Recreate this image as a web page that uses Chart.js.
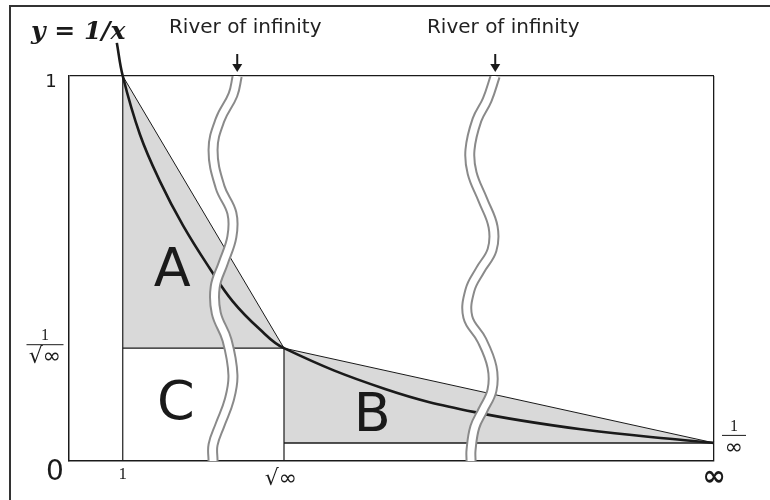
<html>
<head>
<script src="https://cdn.jsdelivr.net/npm/chart.js@4.4.1/dist/chart.umd.min.js"></script>
<style>
  body { margin: 0; background: #fff; }
  canvas { display: block; }
</style>
</head>
<body>
<canvas id="myChart" width="770" height="500"></canvas>
<script>
// axis marks (schematic positions)
var xTicks = [0, 1, 4, 12];
var xTickLabels = ['', '1', '√∞', '∞'];
var yTicks = [0, 0.047, 0.293, 1];
var yTickLabels = ['0', '1/∞', '1/√∞', '1'];

// y = 1/x curve
var curveX = [0.89, 1, 1.32, 1.69, 2.12, 2.62, 3.05, 3.55, 4, 5.88, 7.55, 9.6, 11.46, 12];
var curveY = [1.086, 1, 0.848, 0.727, 0.612, 0.5, 0.414, 0.342, 0.293, 0.187, 0.127, 0.081, 0.054, 0.047];

// the two "rivers of infinity"
var river1X = [3.13, 3.05, 2.81, 2.68, 2.81, 3.03, 3.03, 2.87, 2.72, 2.74, 2.94, 3.05, 2.98, 2.81, 2.68, 2.68];
var river1Y = [1, 0.951, 0.886, 0.808, 0.712, 0.644, 0.582, 0.514, 0.452, 0.384, 0.314, 0.223, 0.158, 0.094, 0.042, 0];
var river2X = [7.93, 7.78, 7.59, 7.46, 7.5, 7.7, 7.89, 7.87, 7.65, 7.46, 7.42, 7.68, 7.87, 7.87, 7.7, 7.55, 7.48, 7.48];
var river2Y = [1, 0.938, 0.886, 0.808, 0.748, 0.678, 0.608, 0.548, 0.496, 0.444, 0.374, 0.314, 0.244, 0.184, 0.132, 0.088, 0.029, 0];
var riverLabel = 'River of infinity';

// areas
var regionLabels = ['A', 'B', 'C'];
var regionX = [1.92, 5.64, 1.99];
var regionY = [0.49, 0.114, 0.145];

function pts(xs, ys) {
    return xs.map(function(x, i) { return {x: x, y: ys[i]}; });
}

var GRAY = '#d9d9d9';
var INK = '#1a1a1a';

function seg(data, width, order) {
    return {data: data, borderColor: INK, borderWidth: width, pointRadius: 0, fill: false, order: order};
}

function river(xs, ys) {
    return [
        {data: pts(xs, ys), borderColor: '#8a8a8a', borderWidth: 11, pointRadius: 0, tension: 0.4, fill: false, order: 3, borderCapStyle: 'butt'},
        {data: pts(xs, ys), borderColor: '#ffffff', borderWidth: 7, pointRadius: 0, tension: 0.4, fill: false, order: 2, borderCapStyle: 'butt'}
    ];
}

var triA = [{x: xTicks[1], y: yTicks[3]}, {x: xTicks[2], y: yTicks[2]}];
var triB = [{x: xTicks[2], y: yTicks[2]}, {x: xTicks[3], y: yTicks[1]}];

var datasets = [
    {data: triA, fill: {value: yTicks[2]}, backgroundColor: GRAY, borderColor: INK, borderWidth: 1, pointRadius: 0, order: 10},
    {data: triB, fill: {value: yTicks[1]}, backgroundColor: GRAY, borderColor: INK, borderWidth: 1, pointRadius: 0, order: 10},
    seg([{x: xTicks[1], y: yTicks[2]}, {x: xTicks[2], y: yTicks[2]}], 1.2, 9),
    seg([{x: xTicks[2], y: 0}, {x: xTicks[2], y: yTicks[2]}], 1.2, 9),
    seg([{x: xTicks[2], y: yTicks[1]}, {x: xTicks[3], y: yTicks[1]}], 1.5, 9),
    seg([{x: xTicks[1], y: 0}, {x: xTicks[1], y: yTicks[3]}], 1.2, 9),
    {data: pts(curveX, curveY), borderColor: INK, borderWidth: 2.6, pointRadius: 0, tension: 0.4, fill: false, order: 5, clip: false}
].concat(river(river1X, river1Y), river(river2X, river2Y));

function frac(ctx, cx, barY, w, den) {
    ctx.fillStyle = INK;
    ctx.textAlign = 'center';
    ctx.font = '16px "Liberation Serif"';
    ctx.textBaseline = 'alphabetic';
    ctx.fillText('1', cx, barY - 4);
    ctx.strokeStyle = INK;
    ctx.lineWidth = 1;
    ctx.beginPath();
    ctx.moveTo(cx - w / 2, barY + 0.5);
    ctx.lineTo(cx + w / 2, barY + 0.5);
    ctx.stroke();
    ctx.font = '22px "DejaVu Sans"';
    ctx.textBaseline = 'middle';
    ctx.fillText(den, cx, barY + 13);
}

var textPlugin = {
    id: 'texts',
    beforeDraw: function(chart) {
        var c = chart.ctx;
        c.save();
        c.strokeStyle = '#333';
        c.lineWidth = 2;
        c.beginPath();
        c.moveTo(10, 500);
        c.lineTo(10, 6);
        c.lineTo(770, 6);
        c.stroke();
        c.restore();
    },
    afterDraw: function(chart) {
        var c = chart.ctx;
        var xs = chart.scales.x, ys = chart.scales.y;
        c.save();
        c.fillStyle = INK;

        // title
        c.font = 'italic bold 25px "DejaVu Serif"';
        c.textAlign = 'left';
        c.textBaseline = 'alphabetic';
        c.fillText('y = 1/x', 31, 39);

        // region letters
        c.font = '54px "DejaVu Sans"';
        c.textAlign = 'center';
        c.textBaseline = 'middle';
        regionLabels.forEach(function(l, i) {
            c.fillText(l, xs.getPixelForValue(regionX[i]), ys.getPixelForValue(regionY[i]));
        });

        // river captions + arrows
        [river1X[0], river2X[0]].forEach(function(rx) {
            var px = xs.getPixelForValue(rx);
            var top = ys.getPixelForValue(1);
            c.fillStyle = '#222';
            c.font = '20px "DejaVu Sans"';
            c.textAlign = 'center';
            c.textBaseline = 'middle';
            c.fillText(riverLabel, px + 8, top - 48);
            c.fillStyle = INK;
            c.strokeStyle = INK;
            c.lineWidth = 2;
            c.beginPath();
            c.moveTo(px, top - 22);
            c.lineTo(px, top - 10);
            c.stroke();
            c.beginPath();
            c.moveTo(px - 5, top - 12);
            c.lineTo(px + 5, top - 12);
            c.lineTo(px, top - 4);
            c.closePath();
            c.fill();
        });

        // y tick labels
        var x0 = xs.getPixelForValue(0);
        c.textAlign = 'center';
        c.textBaseline = 'middle';
        c.font = '18px "DejaVu Sans"';
        c.fillText(yTickLabels[3], x0 - 18, ys.getPixelForValue(yTicks[3]) + 6);
        c.font = '28px "DejaVu Sans"';
        c.fillText(yTickLabels[0], x0 - 14, ys.getPixelForValue(yTicks[0]) + 12);
        frac(c, x0 - 24, ys.getPixelForValue(yTicks[2]) - 4, 37, yTickLabels[2].split('/')[1]);
        frac(c, xs.getPixelForValue(xTicks[3]) + 20, ys.getPixelForValue(yTicks[1]) - 8, 24, yTickLabels[1].split('/')[1]);

        // x tick labels
        var yb = ys.getPixelForValue(0);
        c.textBaseline = 'middle';
        c.font = '17px "Liberation Serif"';
        c.fillText(xTickLabels[1], xs.getPixelForValue(xTicks[1]), yb + 14);
        c.font = '22px "DejaVu Sans"';
        c.fillText(xTickLabels[2], xs.getPixelForValue(xTicks[2]) - 3, yb + 18);
        c.font = 'bold 28px "DejaVu Sans"';
        c.fillText(xTickLabels[3], xs.getPixelForValue(xTicks[3]), yb + 17);
        c.restore();
    }
};

var ctx = document.getElementById('myChart').getContext('2d');
var chart = new Chart(ctx, {
    type: 'line',
    data: {datasets: datasets},
    options: {
        responsive: false,
        animation: false,
        devicePixelRatio: 1,
        layout: {padding: {left: 69, top: 76, right: 56, bottom: 39}},
        plugins: {legend: {display: false}, tooltip: {enabled: false}},
        scales: {
            x: {
                type: 'linear', min: 0, max: 12,
                afterBuildTicks: function(s) { s.ticks = xTicks.map(function(v) { return {value: v}; }); },
                ticks: {display: false},
                grid: {
                    drawTicks: false,
                    lineWidth: 1.3,
                    color: function(c) { return c.tick && c.tick.value === xTicks[3] ? INK : 'transparent'; }
                },
                border: {color: INK, width: 1.5}
            },
            y: {
                type: 'linear', min: 0, max: 1,
                afterBuildTicks: function(s) { s.ticks = yTicks.map(function(v) { return {value: v}; }); },
                ticks: {display: false},
                grid: {
                    drawTicks: false,
                    lineWidth: 1.3,
                    color: function(c) { return c.tick && c.tick.value === yTicks[3] ? INK : 'transparent'; }
                },
                border: {color: INK, width: 1.5}
            }
        }
    },
    plugins: [textPlugin]
});
</script>
</body>
</html>
